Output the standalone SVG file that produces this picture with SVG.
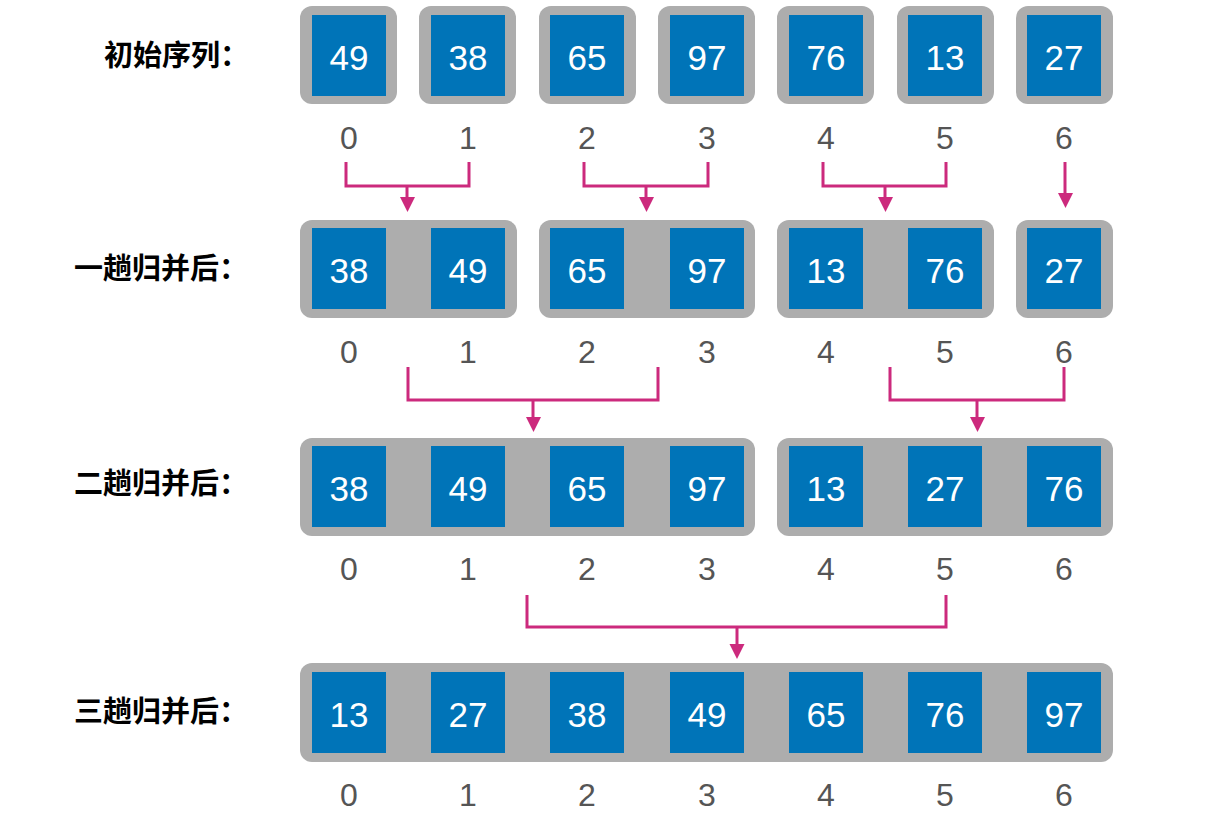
<svg xmlns="http://www.w3.org/2000/svg" width="1232" height="815" viewBox="0 0 1232 815">
<style>
.g{fill:#adadad}
.b{fill:#0074b8}
.n{font-family:"Liberation Sans",Arial,sans-serif;font-size:35px;fill:#fff;text-anchor:middle}
.i{font-family:"Liberation Sans",Arial,sans-serif;font-size:32px;fill:#555;text-anchor:middle}
.l{font-family:"Noto Sans CJK SC","Noto Sans",sans-serif;font-size:29px;font-weight:bold;fill:#000}
.c{fill:none;stroke:#cc2a7d;stroke-width:3}
.h{fill:#cc2a7d}
</style>
<rect width="1232" height="815" fill="#fff"/>

<g id="labels">
<text class="l" x="104" y="66">初始序列：</text>
<text class="l" x="74" y="279">一趟归并后：</text>
<text class="l" x="74" y="494">二趟归并后：</text>
<text class="l" x="74" y="722">三趟归并后：</text>
</g>

<g id="row1">
<rect class="g" x="300" y="6" width="97" height="98" rx="12"/>
<rect class="g" x="419" y="6" width="97" height="98" rx="12"/>
<rect class="g" x="539" y="6" width="97" height="98" rx="12"/>
<rect class="g" x="658" y="6" width="97" height="98" rx="12"/>
<rect class="g" x="777" y="6" width="97" height="98" rx="12"/>
<rect class="g" x="897" y="6" width="97" height="98" rx="12"/>
<rect class="g" x="1016" y="6" width="97" height="98" rx="12"/>
<rect class="b" x="312" y="15" width="74" height="81"/>
<rect class="b" x="431" y="15" width="74" height="81"/>
<rect class="b" x="550" y="15" width="74" height="81"/>
<rect class="b" x="670" y="15" width="74" height="81"/>
<rect class="b" x="789" y="15" width="74" height="81"/>
<rect class="b" x="908" y="15" width="74" height="81"/>
<rect class="b" x="1027" y="15" width="74" height="81"/>
<text class="n" x="349" y="69.5">49</text>
<text class="n" x="468" y="69.5">38</text>
<text class="n" x="587" y="69.5">65</text>
<text class="n" x="707" y="69.5">97</text>
<text class="n" x="826" y="69.5">76</text>
<text class="n" x="945" y="69.5">13</text>
<text class="n" x="1064" y="69.5">27</text>
<text class="i" x="349" y="149">0</text>
<text class="i" x="468" y="149">1</text>
<text class="i" x="587" y="149">2</text>
<text class="i" x="707" y="149">3</text>
<text class="i" x="826" y="149">4</text>
<text class="i" x="945" y="149">5</text>
<text class="i" x="1064" y="149">6</text>
</g>

<g id="row2">
<rect class="g" x="300" y="220" width="217" height="98" rx="12"/>
<rect class="g" x="539" y="220" width="216" height="98" rx="12"/>
<rect class="g" x="777" y="220" width="217" height="98" rx="12"/>
<rect class="g" x="1016" y="220" width="97" height="98" rx="12"/>
<rect class="b" x="312" y="228" width="74" height="81"/>
<rect class="b" x="431" y="228" width="74" height="81"/>
<rect class="b" x="550" y="228" width="74" height="81"/>
<rect class="b" x="670" y="228" width="74" height="81"/>
<rect class="b" x="789" y="228" width="74" height="81"/>
<rect class="b" x="908" y="228" width="74" height="81"/>
<rect class="b" x="1027" y="228" width="74" height="81"/>
<text class="n" x="349" y="282.5">38</text>
<text class="n" x="468" y="282.5">49</text>
<text class="n" x="587" y="282.5">65</text>
<text class="n" x="707" y="282.5">97</text>
<text class="n" x="826" y="282.5">13</text>
<text class="n" x="945" y="282.5">76</text>
<text class="n" x="1064" y="282.5">27</text>
<text class="i" x="349" y="363">0</text>
<text class="i" x="468" y="363">1</text>
<text class="i" x="587" y="363">2</text>
<text class="i" x="707" y="363">3</text>
<text class="i" x="826" y="363">4</text>
<text class="i" x="945" y="363">5</text>
<text class="i" x="1064" y="363">6</text>
</g>

<g id="row3">
<rect class="g" x="300" y="438" width="455" height="98" rx="12"/>
<rect class="g" x="777" y="438" width="336" height="98" rx="12"/>
<rect class="b" x="312" y="446" width="74" height="81"/>
<rect class="b" x="431" y="446" width="74" height="81"/>
<rect class="b" x="550" y="446" width="74" height="81"/>
<rect class="b" x="670" y="446" width="74" height="81"/>
<rect class="b" x="789" y="446" width="74" height="81"/>
<rect class="b" x="908" y="446" width="74" height="81"/>
<rect class="b" x="1027" y="446" width="74" height="81"/>
<text class="n" x="349" y="500.5">38</text>
<text class="n" x="468" y="500.5">49</text>
<text class="n" x="587" y="500.5">65</text>
<text class="n" x="707" y="500.5">97</text>
<text class="n" x="826" y="500.5">13</text>
<text class="n" x="945" y="500.5">27</text>
<text class="n" x="1064" y="500.5">76</text>
<text class="i" x="349" y="580">0</text>
<text class="i" x="468" y="580">1</text>
<text class="i" x="587" y="580">2</text>
<text class="i" x="707" y="580">3</text>
<text class="i" x="826" y="580">4</text>
<text class="i" x="945" y="580">5</text>
<text class="i" x="1064" y="580">6</text>
</g>

<g id="row4">
<rect class="g" x="300" y="663" width="813" height="99" rx="12"/>
<rect class="b" x="312" y="672" width="74" height="81"/>
<rect class="b" x="431" y="672" width="74" height="81"/>
<rect class="b" x="550" y="672" width="74" height="81"/>
<rect class="b" x="670" y="672" width="74" height="81"/>
<rect class="b" x="789" y="672" width="74" height="81"/>
<rect class="b" x="908" y="672" width="74" height="81"/>
<rect class="b" x="1027" y="672" width="74" height="81"/>
<text class="n" x="349" y="726.5">13</text>
<text class="n" x="468" y="726.5">27</text>
<text class="n" x="587" y="726.5">38</text>
<text class="n" x="707" y="726.5">49</text>
<text class="n" x="826" y="726.5">65</text>
<text class="n" x="945" y="726.5">76</text>
<text class="n" x="1064" y="726.5">97</text>
<text class="i" x="349" y="806">0</text>
<text class="i" x="468" y="806">1</text>
<text class="i" x="587" y="806">2</text>
<text class="i" x="707" y="806">3</text>
<text class="i" x="826" y="806">4</text>
<text class="i" x="945" y="806">5</text>
<text class="i" x="1064" y="806">6</text>
</g>

<g id="connectors">
<path class="c" d="M346,162 V186 H469 V162"/>
<path class="c" d="M407,186 V198"/>
<polygon class="h" points="400,197 415,197 407.5,212"/>
<path class="c" d="M584,162 V186 H708 V162"/>
<path class="c" d="M646,186 V198"/>
<polygon class="h" points="639,197 654,197 646.5,212"/>
<path class="c" d="M823,162 V186 H946 V162"/>
<path class="c" d="M885,186 V198"/>
<polygon class="h" points="878,197 893,197 885.5,212"/>
<path class="c" d="M1065,162 V194"/>
<polygon class="h" points="1058,193 1073,193 1065.5,208"/>

<path class="c" d="M408,367 V400 H658 V367"/>
<path class="c" d="M533,400 V418"/>
<polygon class="h" points="526,417 541,417 533.5,432"/>
<path class="c" d="M890,367 V400 H1064 V367"/>
<path class="c" d="M977,400 V418"/>
<polygon class="h" points="970,417 985,417 977.5,432"/>

<path class="c" d="M527,595 V627 H946 V595"/>
<path class="c" d="M737,627 V645"/>
<polygon class="h" points="729.5,644 744.5,644 737,659"/>
</g>
</svg>
